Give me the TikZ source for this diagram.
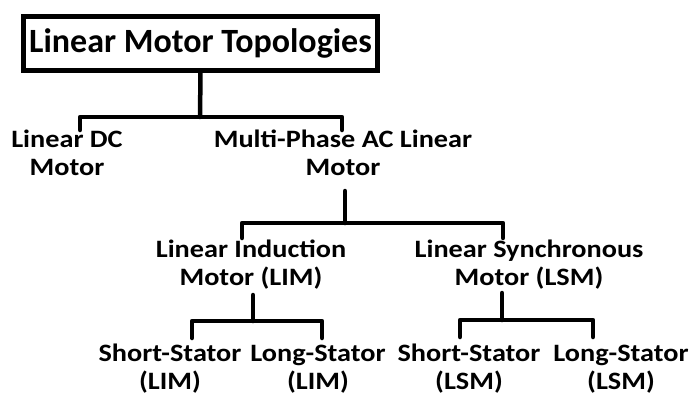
\documentclass[tikz,border=0pt]{standalone}
\usepackage{fontspec}
\setmainfont{Carlito}
\newfontfamily\lblfont{Carlito}[FakeStretch=1.13]
\begin{document}
\begin{tikzpicture}[x=1pt,y=-1pt,
  lbl/.style={align=center,inner sep=0pt,font=\lblfont\fontsize{25}{28}\selectfont\bfseries},
  conn/.style={line width=4.5pt,line cap=round,line join=round}]
\useasboundingbox (0,0) rectangle (691,394);
\node[draw,line width=4.5pt,minimum width=354pt,minimum height=54pt,inner sep=0pt,
  font=\fontsize{34}{38}\selectfont\bfseries] (title) at (200.5,43.5) {Linear Motor Topologies};
\node[lbl] (dc) at (67,155.4) {\strut Linear DC\\\strut Motor};
\node[lbl] (ac) at (343,155.4) {\strut Multi-Phase AC Linear\\\strut Motor};
\node[lbl] (lim) at (251,265.4) {\strut Linear Induction\\\strut Motor (LIM)};
\node[lbl] (lsm) at (529,266) {\strut Linear Synchronous\\\strut Motor (LSM)};
\node[lbl] (ssl) at (170,369.4) {\strut Short-Stator\\\strut (LIM)};
\node[lbl] (lsl) at (318,369.4) {\strut Long-Stator\\\strut (LIM)};
\node[lbl] (sss) at (469,369.4) {\strut Short-Stator\\\strut (LSM)};
\node[lbl] (lss) at (621,369.4) {\strut Long-Stator\\\strut (LSM)};
% connector end points
\coordinate (b1) at (200,117);
\coordinate (dcT) at (80,130);
\coordinate (acT) at (342,130);
\coordinate (acB) at (345,191);
\coordinate (b2) at (345,223);
\coordinate (limT) at (242,238);
\coordinate (lsmT) at (503,238);
\coordinate (limB) at (253,295);
\coordinate (b3) at (253,321);
\coordinate (sslT) at (192,338);
\coordinate (lslT) at (322,338);
\coordinate (lsmB) at (502,293);
\coordinate (b4) at (502,320);
\coordinate (sssT) at (460,337);
\coordinate (lssT) at (593,337);
\draw[conn] (title.south) -- (b1);
\draw[conn] (dcT) |- (b1) -| (acT);
\draw[conn] (acB) -- (b2);
\draw[conn] (limT) |- (b2) -| (lsmT);
\draw[conn] (limB) -- (b3);
\draw[conn] (sslT) |- (b3) -| (lslT);
\draw[conn] (lsmB) -- (b4);
\draw[conn] (sssT) |- (b4) -| (lssT);
\end{tikzpicture}
\end{document}
